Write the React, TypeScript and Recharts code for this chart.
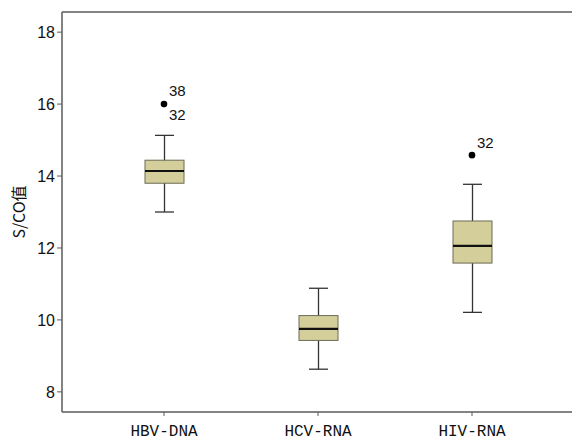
import React from "react";
import { ComposedChart, Bar, Scatter, XAxis, YAxis } from "recharts";

const categories = ["HBV-DNA", "HCV-RNA", "HIV-RNA"];
const whiskerLow = [13.0, 8.63, 10.21];
const quartile1 = [13.8, 9.43, 11.58];
const medians = [14.14, 9.75, 12.06];
const quartile3 = [14.44, 10.12, 12.75];
const whiskerHigh = [15.13, 10.88, 13.77];
const outliers: (number | null)[] = [16.0, null, 14.58];
const outlierLabels: string[][] = [["38", "32"], [], ["32"]];
const yTicks = [8, 10, 12, 14, 16, 18];

const data = categories.map((name, i) => ({
  name,
  range: [whiskerLow[i], whiskerHigh[i]],
  lo: whiskerLow[i],
  q1: quartile1[i],
  med: medians[i],
  q3: quartile3[i],
  hi: whiskerHigh[i],
  outlier: outliers[i],
  labels: outlierLabels[i],
}));

const AXIS = "#5a5a5a";
const STROKE = "#333";

function BoxShape(props: any) {
  const { x, y, width, height, payload } = props;
  const top = Math.min(y, y + height);
  const h = Math.abs(height);
  const { lo, hi, q1, q3, med } = payload;
  const yOf = (v: number) => top + (h * (hi - v)) / (hi - lo);
  const cx = x + width / 2;
  const cap = 19;
  return (
    <g>
      <line x1={cx} x2={cx} y1={yOf(hi)} y2={yOf(lo)} stroke={STROKE} strokeWidth={1.3} />
      <line x1={cx - cap / 2} x2={cx + cap / 2} y1={yOf(hi)} y2={yOf(hi)} stroke={STROKE} strokeWidth={1.3} />
      <line x1={cx - cap / 2} x2={cx + cap / 2} y1={yOf(lo)} y2={yOf(lo)} stroke={STROKE} strokeWidth={1.3} />
      <rect x={x} y={yOf(q3)} width={width} height={yOf(q1) - yOf(q3)} fill="#d4cf9a" stroke="#6b6b55" strokeWidth={1} />
      <line x1={x} x2={x + width} y1={yOf(med)} y2={yOf(med)} stroke="#111" strokeWidth={2.2} />
    </g>
  );
}

function OutlierShape(props: any) {
  const { cx, cy, payload } = props;
  if (payload.outlier == null || cx == null || cy == null) return <g />;
  const labels: string[] = payload.labels;
  const offsets = labels.length > 1 ? [-14, 10] : [-13];
  return (
    <g>
      <circle cx={cx} cy={cy} r={3.3} fill="#000" />
      {labels.map((t, i) => (
        <text
          key={i}
          x={cx + 5}
          y={cy + offsets[i]}
          dominantBaseline="central"
          fontSize={15}
          fontFamily="Liberation Sans, Arial, sans-serif"
          fill="#111"
        >
          {t}
        </text>
      ))}
    </g>
  );
}

export default function App() {
  return (
    <div style={{ position: "absolute", left: 0, top: 0, width: 572, height: 440, background: "#fff", overflow: "hidden" }}>
      <ComposedChart
        width={574}
        height={440}
        data={data}
        margin={{ top: 11, right: 0, left: 22, bottom: 0 }}
      >
        <XAxis
          dataKey="name"
          xAxisId="bottom"
          height={28}
          padding={{ left: 25, right: 25 }}
          axisLine={{ stroke: AXIS, strokeWidth: 1.5 }}
          tickLine={{ stroke: AXIS, strokeWidth: 1 }}
          tickSize={4}
          dy={7}
          tick={{ fill: "#111", fontSize: 16, fontFamily: "Liberation Mono, monospace" }}
          interval={0}
        />
        <XAxis
          dataKey="name"
          xAxisId="top"
          orientation="top"
          height={1}
          tick={false}
          tickLine={false}
          axisLine={{ stroke: AXIS, strokeWidth: 1.5 }}
        />
        <YAxis
          domain={[7.44, 18.56]}
          ticks={yTicks}
          width={40}
          axisLine={{ stroke: AXIS, strokeWidth: 1.5 }}
          tickLine={{ stroke: AXIS, strokeWidth: 1 }}
          tickSize={5}
          tick={{ fill: "#111", fontSize: 16, fontFamily: "Liberation Sans, Arial, sans-serif" }}
          allowDataOverflow
          label={{
            value: "S/CO值",
            angle: -90,
            position: "insideLeft",
            dx: -8,
            style: { textAnchor: "middle", fontSize: 16, fill: "#111", fontFamily: "Noto Sans CJK JP, sans-serif" },
          }}
        />
        <Bar dataKey="range" xAxisId="bottom" barSize={39} shape={<BoxShape />} isAnimationActive={false} />
        <Scatter dataKey="outlier" xAxisId="bottom" shape={<OutlierShape />} isAnimationActive={false} />
      </ComposedChart>
    </div>
  );
}
